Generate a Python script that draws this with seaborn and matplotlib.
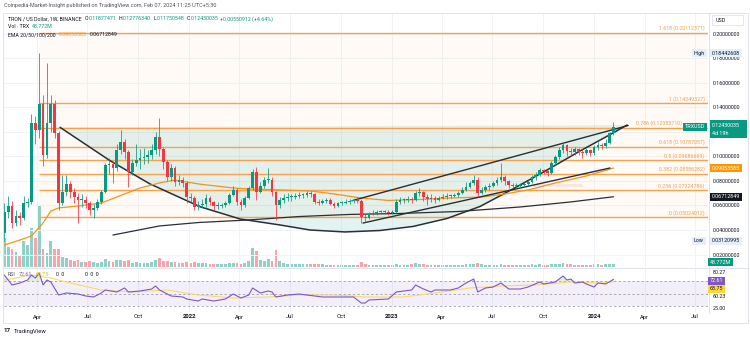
import numpy as np
import pandas as pd
import matplotlib
matplotlib.use("Agg")
import matplotlib.pyplot as plt
import matplotlib.dates as mdates
import matplotlib.transforms as mtransforms
from matplotlib.patches import Rectangle
from matplotlib.lines import Line2D
import seaborn as sns

sns.set_theme(style="white")
plt.rcParams["font.family"] = ["Roboto", "DejaVu Sans"]

# ---------------- weekly TRX/USD candles ----------------
first_week = pd.Timestamp("2021-02-01")
first_open = 0.0376
close = [
    0.0547, 0.0596, 0.0457, 0.0514, 0.0498, 0.0620, 0.0629, 0.1273, 0.1216, 0.1429,
    0.1012, 0.1273, 0.1429, 0.1192, 0.0620, 0.0710, 0.0776, 0.0710, 0.0669, 0.0645,
    0.0645, 0.0620, 0.0563, 0.0580, 0.0629, 0.0710, 0.0931, 0.0939, 0.0906, 0.1053,
    0.1118, 0.1037, 0.0873, 0.0947, 0.0971, 0.0988, 0.0996, 0.1012, 0.1053, 0.1159,
    0.1061, 0.0955, 0.0833, 0.0906, 0.0792, 0.0808, 0.0784, 0.0669, 0.0661, 0.0588,
    0.0604, 0.0612, 0.0661, 0.0629, 0.0596, 0.0596, 0.0604, 0.0620, 0.0686, 0.0727,
    0.0629, 0.0604, 0.0661, 0.0743, 0.0873, 0.0710, 0.0759, 0.0808, 0.0808, 0.0710,
    0.0604, 0.0645, 0.0661, 0.0669, 0.0669, 0.0678, 0.0686, 0.0686, 0.0702, 0.0694,
    0.0629, 0.0620, 0.0637, 0.0645, 0.0612, 0.0596, 0.0620, 0.0620, 0.0629, 0.0637,
    0.0645, 0.0637, 0.0506, 0.0498, 0.0531, 0.0539, 0.0547, 0.0547, 0.0547, 0.0539,
    0.0547, 0.0629, 0.0645, 0.0645, 0.0653, 0.0645, 0.0702, 0.0710, 0.0669, 0.0653,
    0.0661, 0.0645, 0.0661, 0.0669, 0.0678, 0.0678, 0.0686, 0.0702, 0.0727, 0.0751,
    0.0784, 0.0808, 0.0702, 0.0727, 0.0751, 0.0759, 0.0784, 0.0808, 0.0833, 0.0800,
    0.0767, 0.0759, 0.0759, 0.0767, 0.0775, 0.0792, 0.0833, 0.0850, 0.0890, 0.0880,
    0.0865, 0.0947, 0.0996, 0.1053, 0.1094, 0.1045, 0.1037, 0.1061, 0.1037, 0.1029,
    0.1053, 0.1029, 0.1077, 0.1094, 0.1085, 0.1110, 0.11877471, 0.12430035,
]
high = [
    0.0620, 0.0680, 0.0640, 0.0560, 0.0545, 0.0680, 0.0660, 0.1350, 0.1330, 0.18442608,
    0.1500, 0.1760, 0.1500, 0.1460, 0.1210, 0.0850, 0.0850, 0.0800, 0.0740, 0.0700,
    0.0690, 0.0680, 0.0640, 0.0610, 0.0650, 0.0730, 0.0950, 0.0990, 0.0960, 0.1100,
    0.1220, 0.1140, 0.1050, 0.0980, 0.1100, 0.1060, 0.1070, 0.1050, 0.1100, 0.1200,
    0.1310, 0.1080, 0.0970, 0.0940, 0.0920, 0.0850, 0.0830, 0.0800, 0.0700, 0.0680,
    0.0640, 0.0650, 0.0690, 0.0680, 0.0640, 0.0630, 0.0620, 0.0640, 0.0700, 0.0760,
    0.0740, 0.0650, 0.0680, 0.0760, 0.0900, 0.0914, 0.0790, 0.0830, 0.0910, 0.0830,
    0.0720, 0.0670, 0.0690, 0.0700, 0.0690, 0.0700, 0.0710, 0.0700, 0.0720, 0.0720,
    0.0700, 0.0650, 0.0650, 0.0660, 0.0660, 0.0630, 0.0630, 0.0640, 0.0650, 0.0650,
    0.0660, 0.0670, 0.0650, 0.0530, 0.0550, 0.0560, 0.0560, 0.0560, 0.0560, 0.0560,
    0.0560, 0.0650, 0.0670, 0.0660, 0.0680, 0.0670, 0.0720, 0.0740, 0.0720, 0.0690,
    0.0690, 0.0680, 0.0680, 0.0690, 0.0700, 0.0690, 0.0700, 0.0720, 0.0750, 0.0790,
    0.0800, 0.0849, 0.0830, 0.0750, 0.0770, 0.0780, 0.0800, 0.0830, 0.0947, 0.0850,
    0.0810, 0.0780, 0.0780, 0.0780, 0.0790, 0.0810, 0.0850, 0.0870, 0.0910, 0.0900,
    0.0890, 0.0960, 0.1010, 0.1080, 0.1120, 0.1100, 0.1070, 0.1080, 0.1070, 0.1060,
    0.1070, 0.1060, 0.1090, 0.1120, 0.1110, 0.1140, 0.1200, 0.12776340,
]
low = [
    0.03120995, 0.0500, 0.0420, 0.0430, 0.0440, 0.0480, 0.0590, 0.0610, 0.1100, 0.1150,
    0.0920, 0.0990, 0.1200, 0.1150, 0.0560, 0.0600, 0.0680, 0.0660, 0.0620, 0.0460,
    0.0590, 0.0580, 0.0520, 0.0500, 0.0560, 0.0610, 0.0700, 0.0860, 0.0780, 0.0880,
    0.1020, 0.0980, 0.0750, 0.0850, 0.0920, 0.0900, 0.0940, 0.0950, 0.0980, 0.1020,
    0.1000, 0.0900, 0.0800, 0.0800, 0.0760, 0.0770, 0.0750, 0.0620, 0.0630, 0.0560,
    0.0560, 0.0580, 0.0590, 0.0600, 0.0560, 0.0570, 0.0580, 0.0590, 0.0610, 0.0680,
    0.0600, 0.0560, 0.0590, 0.0650, 0.0730, 0.0645, 0.0700, 0.0740, 0.0780, 0.0680,
    0.0482, 0.0580, 0.0620, 0.0640, 0.0640, 0.0650, 0.0660, 0.0660, 0.0670, 0.0670,
    0.0610, 0.0600, 0.0610, 0.0620, 0.0600, 0.0580, 0.0590, 0.0600, 0.0610, 0.0610,
    0.0620, 0.0620, 0.0457, 0.0470, 0.0490, 0.0520, 0.0520, 0.0530, 0.0530, 0.0520,
    0.0530, 0.0540, 0.0610, 0.0620, 0.0630, 0.0620, 0.0640, 0.0680, 0.0640, 0.0600,
    0.0630, 0.0620, 0.0640, 0.0650, 0.0650, 0.0660, 0.0670, 0.0670, 0.0690, 0.0720,
    0.0740, 0.0770, 0.0680, 0.0690, 0.0710, 0.0730, 0.0750, 0.0770, 0.0790, 0.0770,
    0.0740, 0.0740, 0.0740, 0.0740, 0.0750, 0.0760, 0.0780, 0.0810, 0.0840, 0.0860,
    0.0840, 0.0860, 0.0930, 0.0980, 0.1030, 0.1000, 0.1000, 0.1010, 0.1010, 0.0990,
    0.1010, 0.1000, 0.1010, 0.1050, 0.1060, 0.1070, 0.1100, 0.11750548,
]
volume_m = [
    464, 320, 288, 240, 192, 416, 352, 624, 464, 976,
    288, 224, 416, 288, 288, 160, 144, 112, 96, 112,
    80, 80, 96, 80, 64, 80, 128, 96, 80, 112,
    112, 96, 112, 64, 80, 64, 64, 64, 80, 112,
    144, 96, 96, 80, 80, 64, 64, 80, 64, 80,
    64, 64, 64, 48, 48, 48, 48, 48, 64, 64,
    64, 48, 64, 96, 304, 256, 112, 96, 128, 96,
    272, 96, 64, 48, 48, 48, 48, 48, 48, 48,
    48, 48, 48, 32, 32, 32, 32, 32, 32, 32,
    32, 32, 80, 48, 32, 32, 32, 32, 32, 32,
    32, 48, 32, 32, 32, 48, 64, 48, 48, 32,
    32, 32, 32, 32, 32, 32, 32, 32, 32, 48,
    48, 48, 64, 48, 32, 32, 32, 32, 48, 32,
    32, 32, 32, 32, 32, 32, 48, 32, 48, 32,
    32, 48, 48, 48, 64, 48, 48, 32, 32, 32,
    32, 32, 48, 48, 32, 48, 48, 48.772,
]

# EMA lines (week offset, price)
ema50_week = [0, 4, 7, 10, 12, 14, 19, 25, 29, 35, 40, 44, 50, 59, 63, 71, 79, 85, 92, 99,
              107, 115, 123, 129, 135, 142, 150, 157]
ema50_value = [0.0278, 0.0318, 0.0351, 0.0457, 0.0555, 0.0580, 0.0596, 0.0620, 0.0669, 0.0743,
               0.0784, 0.0808, 0.0776, 0.0743, 0.0735, 0.0727, 0.0718, 0.0694, 0.0661, 0.0641,
               0.0649, 0.0661, 0.0669, 0.0694, 0.0727, 0.0784, 0.0841, 0.09053585]
ema200_week = [28, 40, 50, 63, 76, 89, 102, 117, 133, 146, 157]
ema200_value = [0.0359, 0.0433, 0.0461, 0.0482, 0.0510, 0.0527, 0.0535, 0.0551, 0.0588, 0.0629, 0.06712849]

# Fibonacci retracement
fib_ratio = ["0", "0.236", "0.382", "0.5", "0.618", "0.786", "1", "1.618"]
fib_price = [0.05024012, 0.07224786, 0.08586282, 0.09686669, 0.10787057, 0.12353710, 0.14349327, 0.20112371]
fib_start = pd.Timestamp("2021-04-05")

# cup arc and rising channel (week offset, price)
arc_week = [14.36, 27.24, 37.55, 50.44, 60.75, 71.06, 78.79, 87.81, 96.83, 105.33, 114.10,
            122.6, 131.1, 139.9, 148.4, 156.9, 160.5]
arc_price = [0.1238, 0.0966, 0.0776, 0.0590, 0.0490, 0.0441, 0.0400, 0.0384, 0.0396, 0.0429,
             0.0494, 0.0592, 0.0735, 0.0890, 0.1045, 0.1192, 0.1257]
upper_week, upper_price = [89.6, 160.8], [0.0639, 0.1253]
lower_week, lower_price = [92.45, 156.1], [0.0457, 0.0906]
box_week, box_price = [136.3, 148.9], [0.0755, 0.0778]

# RSI (14) and its moving average
rsi_week = [0, 2, 4, 6, 7, 8, 9, 10, 11, 12, 14, 16, 19, 21, 23, 25, 26, 29, 31, 32,
            35, 38, 39, 40, 42, 43, 46, 47, 50, 51, 54, 57, 59, 61, 63, 64, 66, 68, 69, 70,
            73, 76, 80, 82, 85, 90, 92, 93, 94, 99, 101, 103, 105, 106, 108, 110, 111, 115, 117, 119,
            121, 122, 124, 126, 128, 130, 133, 135, 138, 139, 142, 144, 145, 146, 147, 149, 150, 152, 153, 155,
            157]
rsi_value = [79.6, 63.6, 66.8, 71.6, 79.6, 74.8, 82.8, 63.6, 71.6, 68.4, 47.6, 50.8, 49.2, 46.0, 44.4, 50.8, 55.6, 52.4, 58.8, 52.4,
             54.0, 57.2, 62.0, 55.6, 49.2, 46.0, 44.4, 41.2, 38.0, 41.2, 38.0, 41.2, 49.2, 42.8, 47.6, 58.8, 50.8, 54.0, 52.4, 44.4,
             47.6, 49.2, 46.0, 44.4, 44.4, 44.4, 34.8, 34.8, 39.6, 41.2, 52.4, 54.0, 55.6, 63.6, 57.2, 52.4, 55.6, 55.6, 58.8, 66.8,
             73.2, 52.4, 58.8, 60.4, 66.8, 57.2, 57.2, 60.4, 68.4, 65.2, 68.4, 78.0, 71.6, 73.2, 66.8, 68.4, 65.2, 60.4, 66.8, 65.2,
             72.61]
rsi_ma_week = [0, 7, 12, 16, 25, 33, 42, 50, 59, 68, 76, 85, 93, 103, 111, 120, 128, 137, 146, 154, 157]
rsi_ma_value = [71.6, 79.6, 74.8, 68.4, 55.6, 52.4, 55.6, 47.6, 42.8, 44.4, 47.6, 47.6, 44.4, 44.4, 50.8,
                58.8, 62.0, 63.6, 68.4, 66.8, 68.75]

# time axis labels
date_ticks = ["2021-04-01", "2021-07-01", "2021-10-01", "2022-01-01", "2022-04-01", "2022-07-01",
              "2022-10-01", "2023-01-01", "2023-04-01", "2023-07-01", "2023-10-01", "2024-01-01",
              "2024-04-01", "2024-07-01"]
date_labels = ["Apr", "Jul", "Oct", "2022", "Apr", "Jul", "Oct", "2023", "Apr", "Jul", "Oct", "2024", "Apr", "Jul"]
price_ticks = [0.02, 0.04, 0.06, 0.08, 0.10, 0.12, 0.14, 0.16, 0.18, 0.20]

# ---------------- helpers ----------------
UP, DOWN = "#089981", "#f23645"
TXT = "#131722"
W, H = 750, 339


def fx(x):
    return x / W


def fy(y):
    return 1 - y / H


def wk(w):
    return mdates.date2num(first_week + pd.to_timedelta(np.asarray(w, float) * 7, unit="D"))


df = pd.DataFrame({
    "date": pd.date_range(first_week, periods=len(close), freq="7D"),
    "open": [first_open] + close[:-1],
    "high": high, "low": low, "close": close, "volume": volume_m,
})
df["x"] = mdates.date2num(df["date"])
df["color"] = np.where(df["close"] >= df["open"], UP, DOWN)

x_left = mdates.date2num(pd.Timestamp("2021-01-31 12:00"))
x_right = mdates.date2num(pd.Timestamp("2024-07-24 12:00"))

fig = plt.figure(figsize=(7.5, 3.39), dpi=100)
fig.patch.set_facecolor("white")
renderer = fig.canvas.get_renderer()

main_rect = [fx(4), fy(267), fx(704), (267 - 13) / H]
axv = fig.add_axes(main_rect, label="volume")
ax = fig.add_axes(main_rect, label="price")
ax.patch.set_visible(False)
for a in (axv, ax):
    a.set_xlim(x_left, x_right)
    for s in a.spines.values():
        s.set_visible(False)
ax.set_ylim(0.0098, 0.2171)

# volume
axv.bar(df["x"], df["volume"], width=5.0, color=df["color"], alpha=0.45, linewidth=0)
axv.set_ylim(0, max(volume_m) / 0.24)
axv.set_yticks([])
axv.set_xticks([])

# grid
tick_nums = mdates.date2num(pd.to_datetime(date_ticks))
for t in tick_nums:
    ax.axvline(t, color="#f0f3fa", lw=0.7, zorder=0)
for p in price_ticks:
    ax.axhline(p, color="#f0f3fa", lw=0.7, zorder=0)

# fibonacci levels (the 0.786 caption stops short of the last-price tag)
fs = mdates.date2num(fib_start)
ax.fill_between([fs, x_right], fib_price[0], fib_price[-1], color="#ff9800", alpha=0.04, lw=0, zorder=0.5)
for r, p in zip(fib_ratio, fib_price):
    ax.hlines(p, fs, x_right, color="#f6a24e", lw=1.0, zorder=1)
    shift = -19.0 if r == "0.786" else -2.5
    ax.annotate(f"{r} ({p:.8f})", xy=(1, p), xycoords=("axes fraction", "data"),
                xytext=(shift, 1.0), textcoords="offset points", ha="right", va="bottom",
                fontsize=3.8, color="#eea04e", zorder=6)

# cup
ax_arc = wk(arc_week)
ax.fill(ax_arc, arc_price, color="#089981", alpha=0.11, lw=0, zorder=0.8)
sns.lineplot(x=ax_arc, y=arc_price, ax=ax, color="#2a2e39", lw=1.1, sort=False, estimator=None, zorder=3)

# pink marker box
bx = wk(box_week)
ax.add_patch(Rectangle((bx[0], box_price[0]), bx[1] - bx[0], box_price[1] - box_price[0],
                       facecolor="#f23645", alpha=0.12, edgecolor="#f7a1a8", lw=0.5, zorder=2))

# EMAs
sns.lineplot(x=wk(ema200_week), y=ema200_value, ax=ax, color="#2a2e39", lw=0.9, estimator=None, zorder=3)
sns.lineplot(x=wk(ema50_week), y=ema50_value, ax=ax, color="#f7931a", lw=0.9, estimator=None, zorder=3)

# channel
sns.lineplot(x=wk(upper_week), y=upper_price, ax=ax, color="#2a2e39", lw=1.0, estimator=None, zorder=3)
sns.lineplot(x=wk(lower_week), y=lower_price, ax=ax, color="#2a2e39", lw=1.0, estimator=None, zorder=3)

# candles
ax.vlines(df["x"], df["low"], df["high"], colors=df["color"], lw=0.55, zorder=4)
body_lo = np.minimum(df["open"], df["close"])
body_h = np.maximum(np.abs(df["close"] - df["open"]), 0.0008)
ax.bar(df["x"], body_h, bottom=body_lo, width=5.0, color=df["color"], linewidth=0, zorder=5)

# price scale (the 0.12 level sits under the last-price tag)
ax.yaxis.tick_right()
ax.set_yticks(price_ticks)
ax.set_yticklabels(["" if abs(p - 0.12) < 1e-9 else f"{p:.8f}" for p in price_ticks])
ax.tick_params(axis="y", length=0, pad=3.6, labelsize=3.9, labelcolor=TXT)
ax.tick_params(axis="x", bottom=False, labelbottom=False)
ax.set_xticks([])
ax.set_xlabel("")
ax.set_ylabel("")

# ---------------- RSI pane ----------------
axr = fig.add_axes([fx(4), fy(312), fx(704), (312 - 268) / H])
axr.set_xlim(x_left, x_right)
axr.set_ylim(20.4, 90.8)
for s in axr.spines.values():
    s.set_visible(False)
for t in tick_nums:
    axr.axvline(t, color="#f0f3fa", lw=0.7, zorder=0)
axr.fill_between([x_left, x_right], 30, 70, color="#7e57c2", alpha=0.09, lw=0)
for lvl in (70, 50, 30):
    axr.axhline(lvl, color="#9598a1", lw=0.55, ls=(0, (3, 3)))
rx = wk(rsi_week)
rv = np.array(rsi_value)
axr.fill_between(rx, 70, rv, where=rv > 70, interpolate=True, color="#4caf50", alpha=0.18, lw=0)
sns.lineplot(x=wk(rsi_ma_week), y=rsi_ma_value, ax=axr, color="#f3dc6c", lw=0.8, estimator=None)
sns.lineplot(x=rx, y=rv, ax=axr, color="#7e57c2", lw=0.8, estimator=None)
axr.set_yticks([])
axr.set_ylabel("")
axr.set_xticks(tick_nums)
axr.set_xticklabels(date_labels)
axr.tick_params(axis="x", length=0, pad=1.8, labelsize=4.2, labelcolor=TXT)
for lab in axr.get_xticklabels():
    if lab.get_text().isdigit():
        lab.set_fontweight("bold")

# ---------------- frame ----------------
frame = "#e0e3eb"
fig.add_artist(Rectangle((fx(3), fy(323)), fx(745), (323 - 12.5) / H, transform=fig.transFigure,
                         fill=False, edgecolor=frame, lw=0.7))
fig.add_artist(Line2D([fx(3), fx(748)], [fy(267.5), fy(267.5)], transform=fig.transFigure, color=frame, lw=0.7))
fig.add_artist(Line2D([fx(708.5), fx(708.5)], [fy(12.5), fy(312.5)], transform=fig.transFigure, color=frame, lw=0.7))

# ---------------- header / legend ----------------
fig.text(fx(4), fy(6), "Coinpedia-Market-Insight published on TradingView.com, Feb 07, 2024 11:25 UTC+5:30",
         fontsize=4, color="#50535e", va="center")


def put(x, y, s, color=TXT, size=4, **kw):
    return fig.text(fx(x), fy(y), s, fontsize=size, color=color, va="center", **kw)


def chain(x, y, parts, size=3.8):
    """Lay out text pieces left to right on one row, each after the previous one."""
    for s, color, gap in parts:
        t = put(x, y, s, color, size=size)
        x += t.get_window_extent(renderer).width + gap


chain(8, 19, [("TRON / US Dollar, 1W, BINANCE", TXT, 3),
              ("O", TXT, 0.4), ("0.11877471", UP, 2.5),
              ("H", TXT, 0.4), ("0.12776340", UP, 2.5),
              ("L", TXT, 0.4), ("0.11750548", UP, 2.5),
              ("C", TXT, 0.4), ("0.12430035", UP, 2.0),
              ("+0.00550912 (+4.64%)", UP, 0)])
chain(8, 27, [("Vol · TRX", TXT, 3), ("48.772M", UP, 0)])
chain(8, 35, [("EMA 20/50/100/200", TXT, 3), ("0.09053585", "#f7931a", 3), ("0.06712849", TXT, 0)])
chain(8, 274, [("RSI", "#50535e", 3), ("72.61", "#7e57c2", 3), ("68.75", "#d9b81c", 8),
               ("0  0", TXT, 20), ("0  0  0", TXT, 0)])

# price-scale tags tied to their values
blend = mtransforms.blended_transform_factory(fig.transFigure, ax.transData)


def tag(x, value, s, fg, bg):
    fig.text(fx(x), value, s, transform=blend, fontsize=3.9, color=fg, va="center", ha="left",
             bbox=dict(boxstyle="square,pad=0.3", fc=bg, ec="none"), zorder=10)


fig.add_artist(Rectangle((fx(712), fy(25)), fx(31), 10 / H, transform=fig.transFigure,
                         fill=True, facecolor="white", edgecolor=frame, lw=0.6))
put(716, 20, "USD", size=3.9)
tag(694, 0.18442608, "High", TXT, "#e3effd")
tag(712, 0.18442608, "0.18442608", TXT, "#e3effd")
tag(685, 0.12430035, "TRXUSD", "white", UP)
fig.add_artist(Rectangle((fx(709.5), fy(138.5)), fx(37), 18 / H, transform=fig.transFigure,
                         facecolor=UP, edgecolor="none", zorder=9))
put(712, 125.5, "0.12430035", "white", size=3.9, zorder=10)
put(712, 133.5, "4d 19h", "white", size=3.9, zorder=10)
tag(712, 0.09053585, "0.09053585", "white", "#ff9800")
tag(712, 0.06712849, "0.06712849", "white", "#131722")
tag(694, 0.03120995, "Low", TXT, "#e3effd")
tag(712, 0.03120995, "0.03120995", TXT, "#e3effd")
put(710, 262, "48.772M", "white", size=3.9, bbox=dict(boxstyle="square,pad=0.3", fc=UP, ec="none"))

put(713, 272, "80.27", size=3.9)
put(710, 281, "72.61", "white", size=3.9, bbox=dict(boxstyle="square,pad=0.3", fc="#7e57c2", ec="none"))
put(710, 289, "68.75", TXT, size=3.9, bbox=dict(boxstyle="square,pad=0.3", fc="#fdd835", ec="none"))
put(713, 296, "60.23", size=3.9)
put(713, 309, "25.00", size=3.9)

# brand mark
fig.text(fx(4), fy(331), "17", fontsize=4.5, color=TXT, va="center", fontweight="bold")
fig.text(fx(14), fy(331), "TradingView", fontsize=4.2, color=TXT, va="center")

fig.savefig("out.png", dpi=100, facecolor="white")
